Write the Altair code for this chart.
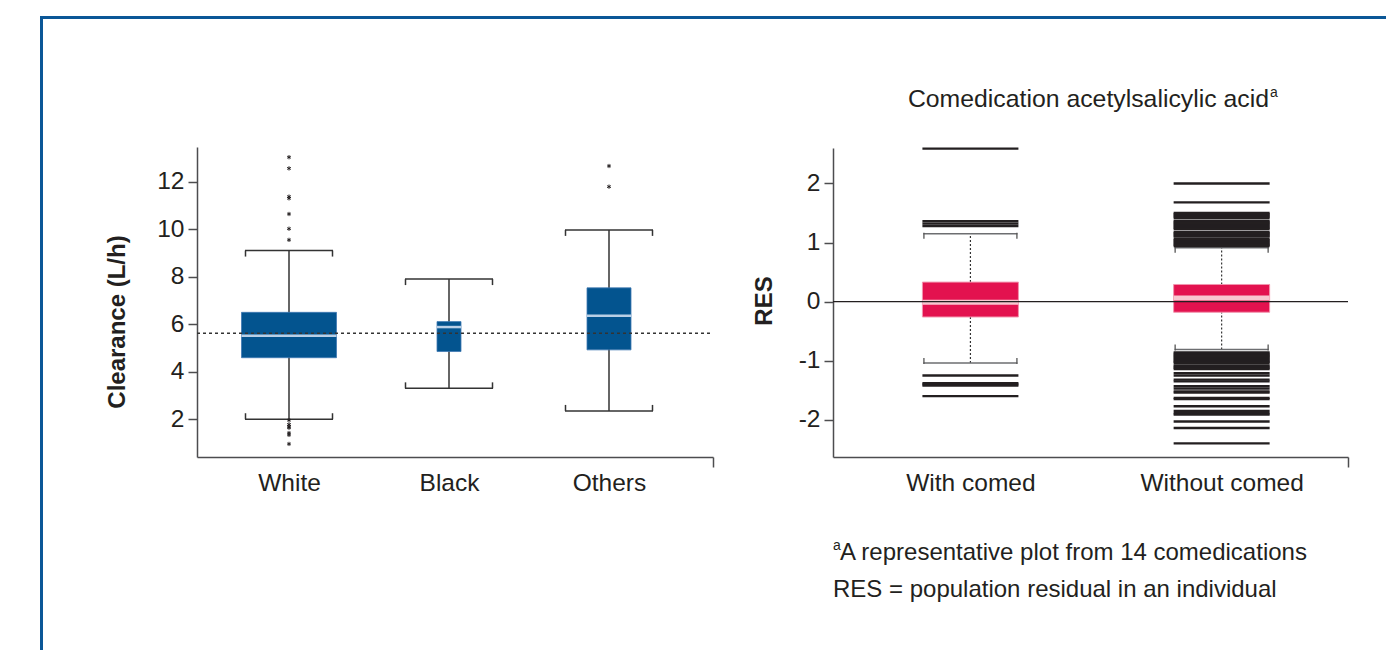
import altair as alt
import pandas as pd

# ---------------- clearance by race (left panel) ----------------
RACES = ["White", "Black", "Others"]
CL_LOW = [2.00, 3.30, 2.35]
CL_Q1 = [4.59, 4.85, 4.92]
CL_MEDIAN = [5.51, 5.88, 6.36]
CL_Q3 = [6.50, 6.11, 7.53]
CL_HIGH = [9.10, 7.90, 9.97]
CL_OUTLIERS = {
    "White": [13.03, 12.56, 11.37, 11.30, 10.64, 10.02, 9.55,
              1.96, 1.78, 1.70, 1.64, 1.42, 1.34, 0.96],
    "Black": [],
    "Others": [12.66, 11.79],
}
CL_POPULATION = 5.62
CL_TICKS = [2, 4, 6, 8, 10, 12]

# ------- residuals with / without acetylsalicylic acid (right panel) -------
GROUPS = ["With comed", "Without comed"]
RES_LOW = [-1.04, -0.81]
RES_Q1 = [-0.26, -0.18]
RES_MEDIAN = [-0.01, 0.06]
RES_Q3 = [0.33, 0.29]
RES_HIGH = [1.15, 0.91]
RES_OUTLIERS = {
    "With comed": [2.59, 1.36, 1.32, 1.28, -1.25, -1.38, -1.40, -1.42, -1.60],
    "Without comed": [
        2.00, 1.68,
        1.50, 1.48, 1.46, 1.44, 1.42, 1.37, 1.35, 1.33, 1.31, 1.29, 1.27,
        1.25, 1.23, 1.18, 1.16, 1.14, 1.12, 1.10, 1.06, 1.04, 1.02, 1.00,
        0.98, 0.96, 0.94,
        -0.86, -0.88, -0.90, -0.92, -0.94, -0.96, -0.98, -1.00, -1.02,
        -1.04, -1.08, -1.10, -1.12, -1.14, -1.21, -1.25, -1.32, -1.35,
        -1.43, -1.47, -1.52, -1.54, -1.63, -1.65, -1.77, -1.85, -1.89,
        -1.91, -2.03, -2.14, -2.40,
    ],
}
RES_TICKS = [-2, -1, 0, 1, 2]

TITLE = "Comedication acetylsalicylic acid"
NOTE_1 = "A representative plot from 14 comedications"
NOTE_2 = "RES = population residual in an individual"

# ---------------- layout & style ----------------
W, H = 1386, 650
FONT = "Liberation Sans"
INK = "#231f20"
AXIS_INK = "#4d4d4f"
BLUE = "#03548f"
BLUE_MED = "#b9cfe6"
RED = "#e3124f"
RED_MED = "#f8c6cf"
FRAME = "#0b5797"

L_XDOM, L_XRNG = [0.425, 3.65], [197, 713]
L_YDOM, L_YRNG = [0.41, 13.46], [457, 147]
R_XDOM, R_XRNG = [0.453, 2.503], [833, 1348]
R_YDOM, R_YRNG = [-2.63, 2.60], [457, 148]

L_BOX_PX = {"White": 95, "Black": 24, "Others": 44}
L_CAP_PX = 88
R_BOX_PX = 96

LABEL_SIZE = 24.5
TEXT_SIZE = 24


def scale(dom, rng):
    return alt.Scale(domain=dom, range=rng, zero=False, nice=False, padding=0)


def y_axis(ticks, offset):
    return alt.Axis(
        orient="left", offset=offset, values=ticks, title=None, grid=False,
        domainColor=AXIS_INK, domainWidth=1.5, tickColor=AXIS_INK,
        tickWidth=1.5, tickSize=9, labelFont=FONT, labelFontSize=LABEL_SIZE,
        labelColor=INK, labelPadding=4, labelFlush=False, labelOverlap=False,
        labelExpr="datum.value + ''",
    )


def x_axis(names, end, offset):
    arr = "[''," + ",".join(f"'{n}'" for n in names) + "]"
    return alt.Axis(
        orient="bottom", offset=offset, values=list(range(1, len(names) + 1)) + [end],
        title=None, grid=False, domainColor=AXIS_INK, domainWidth=1.5,
        tickColor=AXIS_INK, tickWidth=1.5, tickSize=10,
        tickOpacity={"condition": {"test": f"datum.value > {len(names) + 0.2}", "value": 1}, "value": 0},
        labelFont=FONT, labelFontSize=LABEL_SIZE, labelColor=INK, labelPadding=4,
        labelFlush=False, labelOverlap=False,
        labelExpr=f"{arr}[datum.value] || ''",
    )


L_XAXIS = x_axis(RACES, L_XDOM[1], -(H - L_YRNG[0]))
L_YAXIS = y_axis(CL_TICKS, -L_XRNG[0])
R_XAXIS = x_axis(GROUPS, R_XDOM[1], -(H - R_YRNG[0]))
R_YAXIS = y_axis(RES_TICKS, -R_XRNG[0])

# ================= left panel: clearance =================
left_box = pd.DataFrame({
    "race": RACES, "pos": [1, 2, 3], "low": CL_LOW, "q1": CL_Q1,
    "med": CL_MEDIAN, "q3": CL_Q3, "high": CL_HIGH,
    "w": [L_BOX_PX[r] for r in RACES],
})
left_out = pd.DataFrame(
    [{"race": r, "pos": i + 1, "value": v}
     for i, r in enumerate(RACES) for v in CL_OUTLIERS[r]]
)
left_ref = pd.DataFrame({"x0": [L_XDOM[0]], "x1": [L_XDOM[1]], "y": [CL_POPULATION]})


def lx(field="pos"):
    return alt.X(f"{field}:Q", scale=scale(L_XDOM, L_XRNG), axis=L_XAXIS)


def ly(field):
    return alt.Y(f"{field}:Q", scale=scale(L_YDOM, L_YRNG), axis=L_YAXIS)


lbase = alt.Chart(left_box)

l_whisk = lbase.mark_rule(color="#333333", strokeWidth=1.5).encode(
    x=lx(), y=ly("low"), y2="high")
l_caps = [
    lbase.mark_tick(orient="horizontal", size=L_CAP_PX, thickness=1.5,
                    color="#333333", opacity=1).encode(x=lx(), y=ly(f))
    for f in ("high", "low")
]
l_cap_ends = [
    lbase.mark_tick(orient="vertical", size=6, thickness=1.5, color="#333333", opacity=1,
                    xOffset=sx * (L_CAP_PX / 2 - 0.5), yOffset=sy * 3).encode(x=lx(), y=ly(f))
    for f, sy in (("high", 1), ("low", -1)) for sx in (-1, 1)
]
l_boxes = lbase.mark_bar(color=BLUE, stroke="#3f78b3", strokeWidth=0.8, opacity=1).encode(
    x=lx(), y=ly("q1"), y2="q3", size=alt.Size("w:Q", scale=None, legend=None))
l_meds = lbase.mark_tick(orient="horizontal", thickness=2.5, color=BLUE_MED, opacity=1).encode(
    x=lx(), y=ly("med"), size=alt.Size("w:Q", scale=None, legend=None))
l_stars = alt.Chart(left_out).mark_point(
    shape="M0,-1L0,1M-0.87,-0.5L0.87,0.5M-0.87,0.5L0.87,-0.5",
    size=18, filled=False, color=INK, strokeWidth=1, opacity=1,
).encode(x=lx(), y=ly("value"))
l_ref = alt.Chart(left_ref).mark_rule(color="#333333", strokeDash=[3, 3],
                                      strokeWidth=1.3).encode(
    x=lx("x0"), x2="x1", y=ly("y"))

left = alt.layer(l_whisk, *l_caps, *l_cap_ends, l_boxes, l_meds, l_stars, l_ref)

# ================= right panel: residuals =================
right_box = pd.DataFrame({
    "grp": GROUPS, "pos": [1, 2], "low": RES_LOW, "q1": RES_Q1,
    "med": RES_MEDIAN, "q3": RES_Q3, "high": RES_HIGH,
})
right_out = pd.DataFrame(
    [{"grp": g, "pos": i + 1, "value": v}
     for i, g in enumerate(GROUPS) for v in RES_OUTLIERS[g]]
)
right_zero = pd.DataFrame({"x0": [R_XDOM[0]], "x1": [R_XDOM[1]], "y": [0]})


def rx(field="pos"):
    return alt.X(f"{field}:Q", scale=scale(R_XDOM, R_XRNG), axis=R_XAXIS)


def ry(field):
    return alt.Y(f"{field}:Q", scale=scale(R_YDOM, R_YRNG), axis=R_YAXIS)


rbase = alt.Chart(right_box)

r_whisk_hi = rbase.mark_rule(color="#333333", strokeDash=[2, 2], strokeWidth=1.2).encode(
    x=rx(), y=ry("q3"), y2="high")
r_whisk_lo = rbase.mark_rule(color="#333333", strokeDash=[2, 2], strokeWidth=1.2).encode(
    x=rx(), y=ry("low"), y2="q1")
r_caps = [
    rbase.mark_tick(orient="horizontal", size=R_BOX_PX - 2, thickness=1.5,
                    color="#6d6e71", opacity=1).encode(x=rx(), y=ry(f))
    for f in ("high", "low")
]
r_cap_ends = [
    rbase.mark_tick(orient="vertical", size=6, thickness=1.3, color="#555555", opacity=1,
                    xOffset=sx * (R_BOX_PX / 2 - 1.5), yOffset=sy * 2).encode(x=rx(), y=ry(f))
    for f, sy in (("high", 1), ("low", -1)) for sx in (-1, 1)
]
r_out = alt.Chart(right_out).mark_tick(orient="horizontal", size=R_BOX_PX,
                                       thickness=2.4, color=INK, opacity=1).encode(
    x=rx(), y=ry("value"))
r_boxes = rbase.mark_bar(color=RED, stroke="#f294ad", strokeWidth=1, opacity=1,
                         size=R_BOX_PX).encode(x=rx(), y=ry("q1"), y2="q3")
r_meds = rbase.mark_tick(orient="horizontal", size=R_BOX_PX, thickness=5,
                         color=RED_MED, opacity=1).encode(x=rx(), y=ry("med"))
r_zero = alt.Chart(right_zero).mark_rule(color=INK, strokeWidth=1.2).encode(
    x=rx("x0"), x2="x1", y=ry("y"))

right = alt.layer(r_whisk_hi, r_whisk_lo, *r_caps, *r_cap_ends, r_out, r_boxes,
                  r_meds, r_zero)

# ================= text: titles and footnotes =================
def label(text, x, y, size, weight="normal", angle=0, align="left", baseline="middle"):
    return alt.Chart(pd.DataFrame({"t": [text]})).mark_text(
        font=FONT, fontSize=size, fontWeight=weight, angle=angle, align=align,
        baseline=baseline, color=INK,
    ).encode(text="t:N", x=alt.value(x), y=alt.value(y))


texts = [
    label(TITLE, 1269, 100, 24.8, align="right"),
    label("a", 1270, 93, 14),
    label("Clearance (L/h)", 118, 322, TEXT_SIZE, weight="bold", angle=270, align="center"),
    label("RES", 765, 301, TEXT_SIZE, weight="bold", angle=270, align="center"),
    label("a", 833, 546, 14),
    label(NOTE_1, 840, 553, TEXT_SIZE),
    label(NOTE_2, 833, 590, TEXT_SIZE),
]

# ================= page frame =================
frame_df = pd.DataFrame({"k": [0]})
frame = [
    alt.Chart(frame_df).mark_rule(color=FRAME, strokeWidth=3).encode(
        x=alt.value(41.5), y=alt.value(16), y2=alt.value(H)),
    alt.Chart(frame_df).mark_rule(color=FRAME, strokeWidth=3).encode(
        x=alt.value(40), x2=alt.value(W), y=alt.value(17.5)),
]

chart = (
    alt.layer(left, right, *texts, *frame)
    .resolve_scale(x="independent", y="independent")
    .properties(width=W, height=H, padding=0,
                autosize=alt.AutoSizeParams(type="none"), background="white")
    .configure_view(stroke=None)
)

chart.save("out.html", embed_options={"renderer": "svg", "actions": False})
